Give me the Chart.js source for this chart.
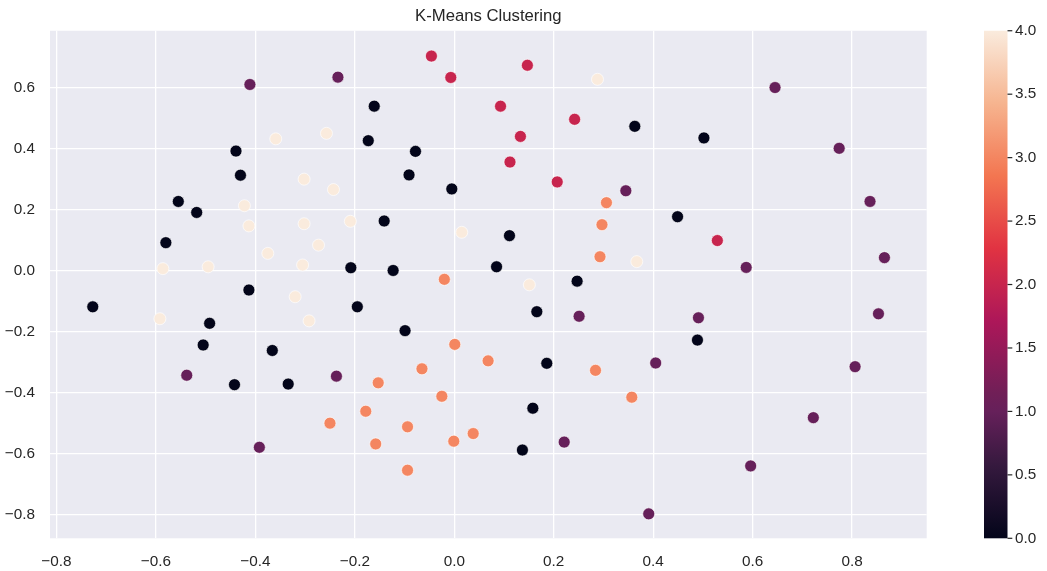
<!DOCTYPE html>
<html>
<head>
<meta charset="utf-8">
<script src="https://cdn.jsdelivr.net/npm/chart.js@4.4.1/dist/chart.umd.min.js"></script>
<style>
  html, body { margin: 0; padding: 0; background: #ffffff; overflow: hidden; }
  #wrap { width: 1047px; height: 571px; position: relative; }
</style>
</head>
<body>
<div id="wrap"><canvas id="chart"></canvas></div>
<script>
// Cluster membership: each array holds [x, y] pairs for one cluster id.
const clusterIds = [0, 1, 2, 3, 4];

const cluster0 = [
  [-0.439, 0.392], [-0.430, 0.313], [-0.555, 0.227], [-0.518, 0.191], [-0.580, 0.092],
  [-0.208, 0.010], [-0.141, 0.163], [-0.161, 0.539], [0.363, 0.473], [-0.173, 0.426],
  [-0.078, 0.391], [-0.091, 0.314], [-0.005, 0.268], [0.449, 0.177], [0.111, 0.115],
  [-0.123, 0.001], [0.085, 0.013], [0.247, -0.034], [0.502, 0.435], [-0.727, -0.118],
  [-0.413, -0.063], [-0.492, -0.172], [-0.505, -0.243], [-0.366, -0.261], [-0.442, -0.373],
  [-0.334, -0.371], [-0.195, -0.118], [0.166, -0.134], [-0.099, -0.196], [0.186, -0.303],
  [0.158, -0.450], [0.137, -0.587], [0.489, -0.227]
];

const cluster1 = [
  [-0.411, 0.610], [-0.234, 0.634], [0.345, 0.262], [0.645, 0.600], [0.774, 0.401],
  [0.836, 0.227], [0.587, 0.011], [0.865, 0.043], [-0.538, -0.342], [-0.237, -0.345],
  [-0.392, -0.578], [0.251, -0.149], [0.405, -0.302], [0.221, -0.561], [0.391, -0.796],
  [0.491, -0.154], [0.853, -0.141], [0.806, -0.314], [0.722, -0.481], [0.596, -0.639]
];

const cluster2 = [
  [-0.046, 0.703], [-0.007, 0.633], [0.147, 0.673], [0.093, 0.539], [0.242, 0.496],
  [0.133, 0.440], [0.112, 0.356], [0.207, 0.291], [0.529, 0.099]
];

const cluster3 = [
  [0.306, 0.223], [0.297, 0.151], [0.293, 0.046], [-0.020, -0.028], [0.001, -0.241],
  [0.068, -0.295], [-0.065, -0.321], [0.284, -0.326], [-0.153, -0.367], [-0.025, -0.411],
  [0.357, -0.414], [-0.178, -0.460], [-0.250, -0.499], [-0.094, -0.511], [0.038, -0.533],
  [-0.158, -0.567], [-0.001, -0.558], [-0.094, -0.653]
];

const cluster4 = [
  [-0.359, 0.432], [-0.257, 0.450], [-0.302, 0.300], [-0.243, 0.266], [-0.422, 0.213],
  [-0.413, 0.147], [-0.302, 0.154], [-0.209, 0.162], [-0.273, 0.084], [-0.375, 0.057],
  [-0.586, 0.007], [-0.495, 0.013], [-0.305, 0.019], [0.288, 0.627], [0.015, 0.126],
  [0.367, 0.030], [0.151, -0.046], [-0.320, -0.085], [-0.592, -0.157], [-0.292, -0.164]
];

const clusters = [cluster0, cluster1, cluster2, cluster3, cluster4];

// Axis ticks
const xTicks = [-0.8, -0.6, -0.4, -0.2, 0.0, 0.2, 0.4, 0.6, 0.8];
const yTicks = [-0.8, -0.6, -0.4, -0.2, 0.0, 0.2, 0.4, 0.6];
const colorbarTicks = [0.0, 0.5, 1.0, 1.5, 2.0, 2.5, 3.0, 3.5, 4.0];
const colorbarRange = [0, 4];

// "rocket" colormap control points (position 0..1, colour)
const rocketStops = [
  [0.0, '#03051A'], [1 / 7, '#35193E'], [0.25, '#66205A'], [2 / 7, '#701F57'],
  [3 / 7, '#AD1759'], [4 / 7, '#E13342'], [5 / 7, '#F37651'], [6 / 7, '#F6B48F'],
  [1.0, '#FAEBDD']
];

function hexToRgb(h) {
  const n = parseInt(h.slice(1), 16);
  return [(n >> 16) & 255, (n >> 8) & 255, n & 255];
}
function rocket(t) {
  for (let i = 1; i < rocketStops.length; i++) {
    const [p1, c1] = rocketStops[i];
    const [p0, c0] = rocketStops[i - 1];
    if (t <= p1) {
      const f = (t - p0) / (p1 - p0);
      const a = hexToRgb(c0), b = hexToRgb(c1);
      const m = a.map((v, k) => Math.round(v + (b[k] - v) * f));
      return `rgb(${m[0]},${m[1]},${m[2]})`;
    }
  }
  return rocketStops[rocketStops.length - 1][1];
}

const FONT = '"Liberation Sans", Arial, "DejaVu Sans", sans-serif';
const TEXT = '#262626';
const fmt = v => (v < 0 ? '\u2212' : '') + Math.abs(v).toFixed(1);

const plotBackground = {
  id: 'plotBackground',
  beforeDraw(chart) {
    const { ctx, chartArea: a } = chart;
    ctx.save();
    ctx.fillStyle = '#EAEAF2';
    ctx.fillRect(a.left, a.top, a.right - a.left, a.bottom - a.top);
    ctx.restore();
  }
};

const colorbar = {
  id: 'colorbar',
  afterDraw(chart) {
    const { ctx } = chart;
    const s = chart.scales.cb;
    const x = chart.chartArea.right + 57.3;
    const w = 23.5;
    const top = s.getPixelForValue(colorbarRange[1]);
    const bottom = s.getPixelForValue(colorbarRange[0]);
    const g = ctx.createLinearGradient(0, bottom, 0, top);
    rocketStops.forEach(([p, c]) => g.addColorStop(p, c));
    ctx.save();
    ctx.fillStyle = g;
    ctx.fillRect(x, top, w, bottom - top);
    ctx.strokeStyle = TEXT;
    ctx.lineWidth = 1.2;
    colorbarTicks.forEach(v => {
      const y = s.getPixelForValue(v);
      ctx.beginPath();
      ctx.moveTo(x + w, y);
      ctx.lineTo(x + w + 4.8, y);
      ctx.stroke();
    });
    ctx.restore();
  }
};

const datasets = clusters.map((pts, i) => ({
  label: 'Cluster ' + clusterIds[i],
  data: pts.map(([x, y]) => ({ x, y })),
  backgroundColor: rocket((clusterIds[i] - colorbarRange[0]) / (colorbarRange[1] - colorbarRange[0])),
  borderColor: 'rgba(255,255,255,0.85)',
  borderWidth: 0.75,
  pointRadius: 6,
  pointHoverRadius: 6
}));

const tickFont = { family: FONT, size: 15.3 };

// Vertical axes should not reserve label overhang above/below the plot.
const noVerticalPadding = s => { s.paddingTop = 0; s.paddingBottom = 0; };

new Chart(document.getElementById('chart'), {
  type: 'scatter',
  data: { datasets },
  options: {
    responsive: true,
    maintainAspectRatio: false,
    animation: false,
    devicePixelRatio: 1,
    events: [],
    layout: { padding: 0 },
    plugins: {
      legend: { display: false },
      tooltip: { enabled: false },
      title: {
        display: true,
        text: 'K-Means Clustering',
        fullSize: false,
        color: TEXT,
        font: { family: FONT, size: 16.7, weight: 'normal' },
        padding: { top: 6, bottom: 4.7 }
      }
    },
    scales: {
      x: {
        type: 'linear',
        position: 'bottom',
        min: -0.813,
        max: 0.95,
        afterFit: s => { s.height = 32.7; s.paddingLeft = 0; s.paddingRight = 0; },
        afterBuildTicks: s => { s.ticks = xTicks.map(v => ({ value: v })); },
        grid: { color: '#FFFFFF', lineWidth: 1.3, drawTicks: false },
        border: { display: false },
        ticks: { padding: 14, color: TEXT, font: tickFont, callback: v => fmt(v), maxRotation: 0 }
      },
      y: {
        type: 'linear',
        position: 'left',
        min: -0.876,
        max: 0.786,
        afterFit: s => { s.width = 50; noVerticalPadding(s); },
        afterBuildTicks: s => { s.ticks = yTicks.map(v => ({ value: v })); },
        grid: { color: '#FFFFFF', lineWidth: 1.3, drawTicks: false },
        border: { display: false },
        ticks: { padding: 15, color: TEXT, font: tickFont, callback: v => fmt(v) }
      },
      cb: {
        type: 'linear',
        axis: 'y',
        position: 'right',
        min: colorbarRange[0],
        max: colorbarRange[1],
        afterFit: s => { s.width = 120.3; noVerticalPadding(s); },
        afterBuildTicks: s => { s.ticks = colorbarTicks.map(v => ({ value: v })); },
        grid: { display: false, drawTicks: false },
        border: { display: false },
        ticks: { padding: 88.3, color: TEXT, font: tickFont, callback: v => fmt(v) }
      }
    }
  },
  plugins: [plotBackground, colorbar]
});
</script>
</body>
</html>
